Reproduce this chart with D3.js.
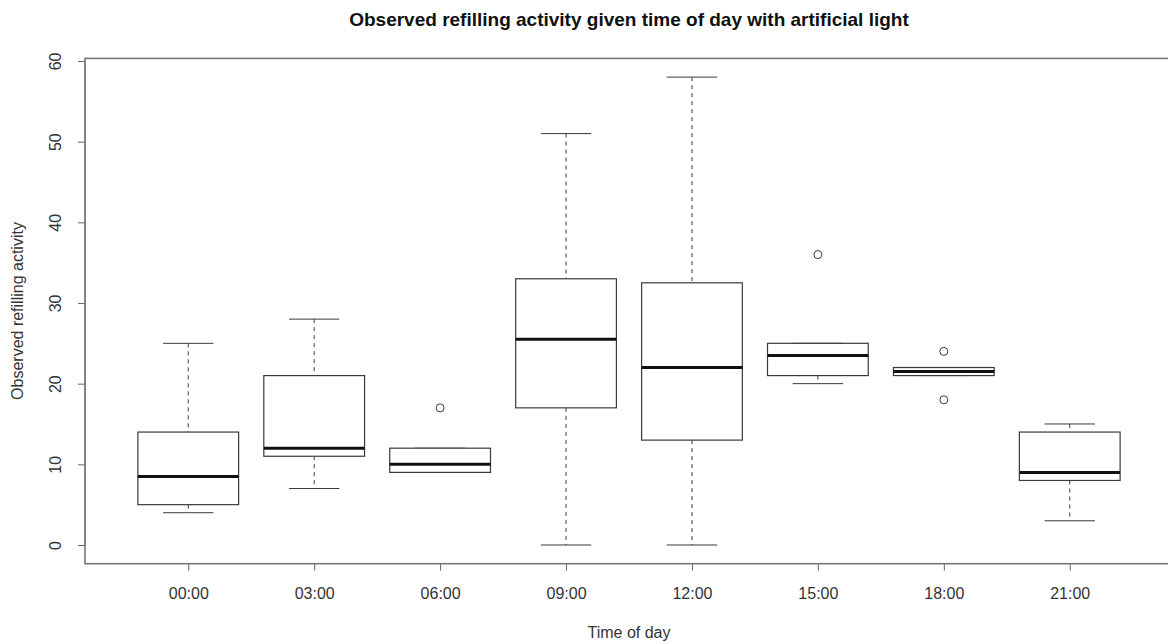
<!DOCTYPE html>
<html>
<head>
<meta charset="utf-8">
<script src="https://cdn.jsdelivr.net/npm/d3@7"></script>
<style>
  html, body { margin: 0; padding: 0; background: #fff; }
  svg { display: block; font-family: "Liberation Sans", Arial, Helvetica, sans-serif; }
</style>
</head>
<body>
<svg id="chart" width="1168" height="644"></svg>
<script>
// Time slots along the x axis
const times = ["00:00", "03:00", "06:00", "09:00", "12:00", "15:00", "18:00", "21:00"];
// Five-number summaries per time slot
const whiskerLow  = [4, 7, 9, 0, 0, 20, 21, 3];
const boxLow      = [5, 11, 9, 17, 13, 21, 21, 8];
const medians     = [8.5, 12, 10, 25.5, 22, 23.5, 21.5, 9];
const boxHigh     = [14, 21, 12, 33, 32.5, 25, 22, 14];
const whiskerHigh = [25, 28, 12, 51, 58, 25, 22, 15];
// Points beyond the whiskers: [slot index, value]
const outliers = [[2, 17], [5, 36], [6, 24], [6, 18]];
const yTicks = [0, 10, 20, 30, 40, 50, 60];

const svg = d3.select("#chart");

// R-style extended ranges (4% padding)
const x = d3.scaleLinear().domain([0.18, 8.82]).range([85, 1173]);
const y = d3.scaleLinear().domain([-2.32, 60.32]).range([563.7, 58.4]);

const ink = "#3a3a3a";
const boxHalf = 0.4, stapleHalf = 0.2;

// Plot frame
svg.append("rect")
  .attr("x", x(0.18)).attr("y", y(60.32))
  .attr("width", x(8.82) - x(0.18)).attr("height", y(-2.32) - y(60.32))
  .attr("fill", "none").attr("stroke", "#777").attr("stroke-width", 1.6);

// Y axis
const yAxis = svg.append("g").attr("transform", `translate(${x(0.18)},0)`)
  .call(d3.axisLeft(y).tickValues(yTicks).tickSize(7).tickPadding(0).tickFormat(d3.format("d")));
yAxis.select(".domain").attr("stroke", "#777").attr("d", `M0,${y(0)}V${y(60)}`);
yAxis.selectAll(".tick line").attr("stroke", "#666");
yAxis.selectAll(".tick text")
  .attr("font-size", 16).attr("fill", "#333").attr("x", 0).attr("dy", 0)
  .attr("text-anchor", "middle")
  .attr("transform", "translate(-30,0) rotate(-90)")
  .attr("dominant-baseline", "central");

// X axis
const xAxis = svg.append("g").attr("transform", `translate(0,${y(-2.32)})`)
  .call(d3.axisBottom(x).tickValues(d3.range(1, 9)).tickSize(7)
    .tickFormat(d => times[d - 1]));
xAxis.select(".domain").remove();
xAxis.selectAll(".tick line").attr("stroke", "#666");
xAxis.selectAll(".tick text").attr("font-size", 16).attr("fill", "#333")
  .attr("y", 30).attr("dy", 0).attr("dominant-baseline", "central");

// Boxes
const groups = svg.append("g").selectAll("g").data(times).join("g");
groups.each(function(t, i) {
  const g = d3.select(this);
  const cx = x(i + 1);
  // whiskers (dashed)
  g.append("line").attr("x1", cx).attr("x2", cx)
    .attr("y1", y(whiskerHigh[i])).attr("y2", y(boxHigh[i]))
    .attr("stroke", ink).attr("stroke-width", 1).attr("stroke-dasharray", "4,4");
  g.append("line").attr("x1", cx).attr("x2", cx)
    .attr("y1", y(boxLow[i])).attr("y2", y(whiskerLow[i]))
    .attr("stroke", ink).attr("stroke-width", 1).attr("stroke-dasharray", "4,4");
  // staples
  [whiskerHigh[i], whiskerLow[i]].forEach(v => {
    g.append("line")
      .attr("x1", x(i + 1 - stapleHalf)).attr("x2", x(i + 1 + stapleHalf))
      .attr("y1", y(v)).attr("y2", y(v))
      .attr("stroke", ink).attr("stroke-width", 1);
  });
  // box
  g.append("rect")
    .attr("x", x(i + 1 - boxHalf)).attr("y", y(boxHigh[i]))
    .attr("width", x(i + 1 + boxHalf) - x(i + 1 - boxHalf))
    .attr("height", Math.max(0, y(boxLow[i]) - y(boxHigh[i])))
    .attr("fill", "#fff").attr("stroke", ink).attr("stroke-width", 1.2);
  // median
  g.append("line")
    .attr("x1", x(i + 1 - boxHalf)).attr("x2", x(i + 1 + boxHalf))
    .attr("y1", y(medians[i])).attr("y2", y(medians[i]))
    .attr("stroke", "#111").attr("stroke-width", 3);
});

// Outliers
svg.append("g").selectAll("circle").data(outliers).join("circle")
  .attr("cx", d => x(d[0] + 1)).attr("cy", d => y(d[1])).attr("r", 4)
  .attr("fill", "none").attr("stroke", ink).attr("stroke-width", 1);

// Titles
svg.append("text").attr("x", 629).attr("y", 26).attr("text-anchor", "middle")
  .attr("font-size", 19).attr("font-weight", "bold").attr("fill", "#111")
  .text("Observed refilling activity given time of day with artificial light");
svg.append("text").attr("x", 629).attr("y", 638).attr("text-anchor", "middle")
  .attr("font-size", 16).attr("fill", "#333").text("Time of day");
svg.append("text").attr("transform", "translate(22.5,311) rotate(-90)")
  .attr("text-anchor", "middle").attr("font-size", 16).attr("fill", "#333")
  .text("Observed refilling activity");
</script>
</body>
</html>
